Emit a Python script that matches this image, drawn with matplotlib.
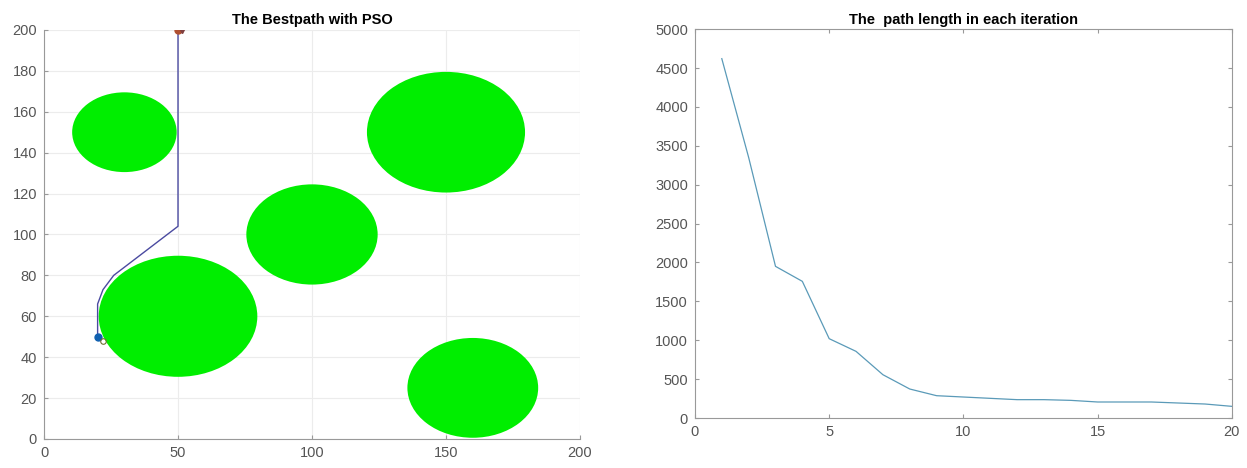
import matplotlib
matplotlib.use("Agg")
import matplotlib.pyplot as plt
from matplotlib.patches import Ellipse
import numpy as np

plt.rcParams['font.family'] = ['Liberation Sans', 'DejaVu Sans']

# Obstacles (center x, center y, radius)
obs_x = [30, 150, 100, 50, 160]
obs_y = [150, 150, 100, 60, 25]
obs_r = [19.5, 29.5, 24.5, 29.6, 24.4]

# Best path
path_x = [20, 20, 22, 26, 34, 50, 50]
path_y = [50, 66, 73, 80, 88, 104, 200]

start = (20, 50)
goal = (50, 200)

# Convergence curve
iters = list(range(1, 21))
lengths = [4620, 3350, 1950, 1757, 1020, 857, 557, 373, 287, 270,
           253, 236, 236, 227, 206, 206, 206, 193, 180, 150]

fig = plt.figure(figsize=(12.47, 4.68), dpi=100)
ax1 = fig.add_axes([0.0353, 0.062, 0.4298, 0.874])
ax2 = fig.add_axes([0.5573, 0.1068, 0.4306, 0.831])

tick_color = '#555555'
for cx, cy, r in zip(obs_x, obs_y, obs_r):
    ax1.add_patch(Ellipse((cx, cy), 2 * r, 2 * r, facecolor='#00ee00',
                          edgecolor='none', zorder=2))
ax1.plot(path_x, path_y, color='#4a4aa0', lw=1.0, zorder=3)
ax1.plot(*start, 'o', color='#1060b0', ms=5, zorder=4)
ax1.plot(start[0] + 2, start[1] - 2, 'o', mfc='none', mec='#707030', ms=4, mew=0.8, zorder=4)
ax1.plot(*goal, 'o', color='#b05030', ms=5, zorder=4)
ax1.plot(goal[0] + 1.5, goal[1] - 0.5, 'v', color='#804040', ms=3, zorder=4)
ax1.set_xlim(0, 200)
ax1.set_ylim(0, 200)
ax1.set_xticks(np.arange(0, 201, 50))
ax1.set_yticks(np.arange(0, 201, 20))
ax1.grid(True, color='#ececec', lw=0.8, zorder=0)
ax1.set_axisbelow(True)
ax1.spines['top'].set_visible(False)
ax1.spines['right'].set_visible(False)
for s in ['left', 'bottom']:
    ax1.spines[s].set_color('#999999')
ax1.tick_params(direction='in', length=3, pad=5, colors='#999999', labelcolor=tick_color, labelsize=10.5)
ax1.set_title('The Bestpath with PSO', fontsize=10.5, fontweight='bold', pad=4)

ax2.plot(iters, lengths, color='#5a9ab8', lw=0.9)
ax2.set_xlim(0, 20)
ax2.set_ylim(0, 5000)
ax2.set_xticks(np.arange(0, 21, 5))
ax2.set_yticks(np.arange(0, 5001, 500))
for s in ax2.spines.values():
    s.set_color('#999999')
ax2.tick_params(direction='in', length=3, pad=5, top=True, right=True, colors='#999999',
                labelcolor=tick_color, labelsize=10.5)
ax2.set_title('The  path length in each iteration', fontsize=10.5, fontweight='bold', pad=4)

fig.savefig('out.png', dpi=100)
